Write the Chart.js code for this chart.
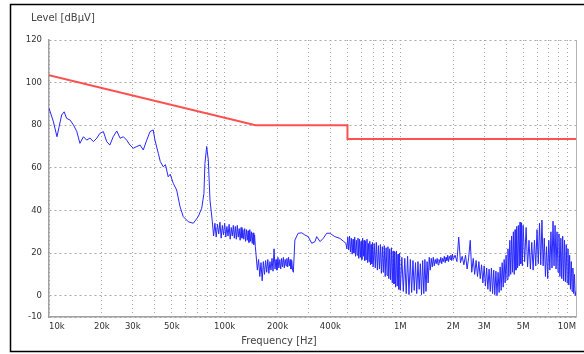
<!DOCTYPE html>
<html>
<head>
<meta charset="utf-8">
<script src="https://cdn.jsdelivr.net/npm/chart.js"></script>
<style>
  html, body { margin: 0; padding: 0; background: #fff; }
  canvas { display: block; }
</style>
</head>
<body>
<canvas id="chart" width="584" height="354"></canvas>
<script>
// frequencies in kHz, levels in dBuV

const limitFreq = [10, 150, 500, 500, 10000];
const limitLevel = [103.5, 80, 80, 73.5, 73.5];

const traceFreq = [
  // 10k - 83k
  10, 10.6, 11.1, 11.4, 11.8, 12.2, 12.6, 13.2, 13.8, 14.4,
  15, 15.7, 16.4, 17.1, 17.9, 18.7, 19.5, 20.4, 21.3, 22.2,
  23.2, 24.3, 25.4, 26.5, 27.7, 28.9, 30.2, 31.6, 33, 34.4,
  36, 37.6, 39.2, 40.1, 41.9, 43, 44.7, 46, 47.7, 49,
  51, 53.3, 55.7, 58.1, 62.1, 66.3, 70.7, 74, 76.2, 77.2,
  79, 80.7, 82.5,
  // 85k - 150k
  85, 86.5, 88, 89.5, 91, 92.5, 94, 95.5, 97, 98.5,
  100, 101.5, 103, 104.5, 106, 107.5, 109, 110.5, 112, 113.5,
  115, 116.5, 118, 119.5, 121, 122.5, 124, 125.5, 127, 128.5,
  130, 131.5, 133, 134.5, 136, 137.5, 139, 140.5, 142, 143.5,
  145, 146.5, 148, 149.5,
  // 150k - 250k
  151, 153.5, 156, 158.5, 161, 163.5, 166, 168.5, 171, 173.5,
  176, 178.5, 181, 183.5, 186, 188.5, 191, 193.5, 196, 198.5,
  201, 203.5, 206, 208.5, 211, 213.5, 216, 218.5, 221, 223.5,
  226, 228.5, 231, 233.5, 236, 238.5, 241, 243.5, 246,
  // 250k - 480k
  251, 262, 275, 286, 299, 313, 327, 334, 349, 364,
  381, 397, 424, 453, 475,
  // 490k - 700k
  490, 496, 502, 508, 514, 520, 526, 532, 538, 544,
  550, 556, 562, 568, 574, 580, 586, 592, 598, 604,
  610, 616, 622, 628, 634, 640, 646, 652, 658, 664,
  670, 676, 682, 688, 694, 700,
  // 700k - 1M
  710, 720, 730, 740, 750, 760, 770, 780, 790, 800,
  810, 820, 830, 840, 850, 860, 870, 880, 890, 900,
  910, 920, 930, 940, 950, 960, 970, 980, 990, 1000,
  // 1M - 2M
  1020, 1040, 1060, 1080, 1100, 1120, 1140, 1160, 1180, 1200,
  1220, 1240, 1260, 1280, 1300, 1320, 1340, 1360, 1380, 1400,
  1420, 1440, 1460, 1480, 1500, 1520, 1540, 1560, 1580, 1600,
  1620, 1640, 1660, 1680, 1700, 1720, 1740, 1760, 1780, 1800,
  1820, 1840, 1860, 1880, 1900, 1920, 1940, 1960, 1980, 2000,
  // 2M - 5M
  2050, 2100, 2150, 2200, 2250, 2300, 2350, 2400, 2450, 2500,
  2550, 2600, 2650, 2700, 2750, 2800, 2850, 2900, 2950, 3000,
  3050, 3100, 3150, 3200, 3250, 3300, 3350, 3400, 3450, 3500,
  3550, 3600, 3650, 3700, 3750, 3800, 3850, 3900, 3950, 4000,
  4050, 4100, 4150, 4200, 4250, 4300, 4350, 4400, 4450, 4500,
  4550, 4600, 4650, 4700, 4750, 4800, 4850, 4900, 4950, 5000,
  // 5M - 10M
  5100, 5200, 5300, 5400, 5500, 5600, 5700, 5800, 5900, 6000,
  6100, 6200, 6300, 6400, 6500, 6600, 6700, 6800, 6900, 7000,
  7100, 7200, 7300, 7400, 7500, 7600, 7700, 7800, 7900, 8000,
  8100, 8200, 8300, 8400, 8500, 8600, 8700, 8800, 8900, 9000,
  9100, 9200, 9300, 9400, 9500, 9600, 9700, 9800, 9900, 10000
];

const traceLevel = [
  // 10k - 83k
  88, 81.6, 74.6, 79, 84.8, 86.3, 83.2, 82.4, 80, 77,
  71.5, 74.6, 73, 74, 72.3, 73.9, 76.2, 77, 72.3, 70.7,
  74.6, 77.3, 73.9, 74.6, 73, 70.7, 69.2, 70, 70.7, 68.4,
  73, 77, 77.8, 73, 66.8, 63, 60.5, 61.5, 55.8, 57,
  52.7, 49.6, 41.8, 37.1, 34.7, 34, 37.1, 41, 48, 62,
  70, 63.7, 44.9,
  // 85k - 150k
  35, 28, 34, 27.5, 33.5, 29, 34.5, 27, 33, 28.5,
  34, 27.5, 32.5, 28, 33.5, 26.5, 32, 28, 33, 27,
  32.5, 26.5, 33, 27.5, 31.5, 26, 32, 27, 31, 26.5,
  31.5, 25.5, 31, 26, 30.5, 25, 31, 25.5, 30, 24.5,
  29.5, 24, 28.5, 23,
  // 150k - 250k
  19, 12, 17, 9, 15.5, 7, 16, 10, 16.5, 11,
  17, 10.5, 16, 12, 17.5, 11.5, 22, 12.5, 17, 12,
  18, 13, 17, 12.5, 17.5, 13.5, 18, 13, 17, 14,
  17.5, 13.5, 18, 14, 17, 12.5, 16.5, 12, 11,
  // 250k - 480k
  26.1, 29.3, 29.5, 28.5, 27.7, 24.6, 25.4, 27.7, 25.4, 26.9,
  29.3, 29.3, 27.7, 26.9, 25.5,
  // 490k - 700k
  24.6, 22, 27.5, 21.5, 28, 20.5, 27, 19.5, 26.5, 20,
  27.5, 18.5, 26, 19, 27, 17.5, 26.5, 18, 25.5, 17,
  27, 18.5, 26, 16.5, 25.5, 17, 26.5, 15.5, 24.5, 16,
  25.5, 14.5, 24, 15, 25, 13.5,
  // 700k - 1M
  24.5, 13, 25, 12, 23.5, 12.5, 24, 10.5, 23, 11,
  23.5, 9, 22.5, 9.5, 23, 8, 22, 7.5, 22.5, 6,
  21, 5.5, 20.5, 4, 21, 4.5, 19.5, 3, 20, 2.5,
  // 1M - 2M
  18, 2, 17.5, 1, 18.5, 0.5, 17, 1.5, 16.5, 2.5,
  15.5, 1, 16, 3, 15, 0.5, 16.5, 1, 17, 2,
  16, 6, 18, 12, 17.5, 13.5, 18, 14, 17, 15,
  17.5, 14.5, 17, 15.5, 18, 15, 17.5, 16, 18.5, 15.5,
  18, 16.5, 19, 16, 18.5, 17, 19, 16.5, 19.5, 17,
  // 2M - 5M
  19, 16, 27.5, 15.5, 18.5, 14.5, 19, 12.5, 18, 26,
  11, 17.5, 10, 16.5, 9, 16, 8, 14.5, 6, 14,
  4.5, 13, 3, 12.5, 2, 13, 1, 12, 0.5, 11.5,
  0, 11, 1.5, 13.5, 2.5, 15.5, 4, 17, 6, 19,
  7.5, 22, 9, 26, 10, 28, 11, 30, 10, 31,
  12, 32.5, 13, 33, 14, 34.5, 15, 34, 14, 33,
  // 5M - 10M
  16, 32, 13.5, 26, 12.5, 25, 12, 26, 14, 31,
  15, 34, 14.5, 35.5, 14, 27, 9, 23, 8, 26,
  12, 30, 13, 35, 14, 33, 12.5, 30, 11, 29,
  9, 27, 8, 28, 7, 26, 6.5, 24, 6, 22,
  5, 19, 3, 16, 2, 13, 1, 10, 0, 2
];

const yTicks = [-10, 0, 20, 40, 60, 80, 100, 120];
const xGrid = [
  10, 20, 30, 40, 50, 60, 70, 80, 90,
  100, 200, 300, 400, 500, 600, 700, 800, 900,
  1000, 2000, 3000, 4000, 5000, 6000, 7000, 8000, 9000, 10000
];
const xLabels = {
  10: '10k', 20: '20k', 30: '30k', 50: '50k', 100: '100k', 200: '200k',
  400: '400k', 1000: '1M', 2000: '2M', 3000: '3M', 5000: '5M', 10000: '10M'
};

const toPoints = (xs, ys) => xs.map((x, i) => ({x: x, y: ys[i]}));

const tickFont = {family: 'DejaVu Sans', size: 8.5};

const framePlugin = {
  id: 'frame',
  beforeDraw(chart) {
    const ctx = chart.ctx;
    ctx.save();
    ctx.fillStyle = '#fff';
    ctx.fillRect(0, 0, chart.width, chart.height);
    ctx.restore();
  },
  afterDraw(chart) {
    const ctx = chart.ctx;
    const a = chart.chartArea;
    ctx.save();
    ctx.strokeStyle = '#000';
    ctx.lineWidth = 1.5;
    ctx.strokeRect(10.5, 4.5, 600, 347);
    ctx.strokeStyle = '#b4b4b4';
    ctx.lineWidth = 1;
    ctx.beginPath();
    ctx.moveTo(a.right + 0.5, a.top);
    ctx.lineTo(a.right + 0.5, a.bottom);
    ctx.stroke();
    ctx.fillStyle = '#444';
    ctx.font = '10px "DejaVu Sans"';
    ctx.textBaseline = 'middle';
    ctx.fillText('Level [dBµV]', 31, 18);
    ctx.textAlign = 'center';
    ctx.fillText('Frequency [Hz]', 279, 341);
    ctx.restore();
  }
};

new Chart(document.getElementById('chart'), {
  type: 'line',
  data: {
    datasets: [
      {
        label: 'Limit',
        data: toPoints(limitFreq, limitLevel),
        borderColor: '#ff5050',
        borderWidth: 2,
        pointRadius: 0,
        tension: 0
      },
      {
        label: 'Level',
        data: toPoints(traceFreq, traceLevel),
        borderColor: '#2828ff',
        borderWidth: 1,
        pointRadius: 0,
        tension: 0
      }
    ]
  },
  options: {
    responsive: false,
    animation: false,
    events: [],
    layout: {padding: {top: 40, right: 8, left: 0, bottom: 0}},
    plugins: {
      legend: {display: false},
      tooltip: {enabled: false}
    },
    scales: {
      x: {
        type: 'logarithmic',
        min: 10,
        max: 10000,
        afterBuildTicks: s => { s.ticks = xGrid.map(v => ({value: v})); },
        afterFit: s => { s.height = 37; },
        grid: {color: '#a8a8a8', drawTicks: false},
        border: {color: '#a0a0a0', width: 1.5, dash: [1, 3]},
        ticks: {
          autoSkip: false,
          maxRotation: 0,
          align: 'inner',
          padding: 5,
          color: '#333',
          font: tickFont,
          callback: v => xLabels[v] || ''
        }
      },
      y: {
        min: -10,
        max: 120,
        afterBuildTicks: s => { s.ticks = yTicks.map(v => ({value: v})); },
        afterFit: s => { s.width = 49; },
        grid: {color: '#a8a8a8', drawTicks: false},
        border: {color: '#a0a0a0', width: 1.5, dash: [2, 3]},
        ticks: {padding: 7, color: '#333', font: tickFont}
      }
    }
  },
  plugins: [framePlugin]
});
</script>
</body>
</html>
